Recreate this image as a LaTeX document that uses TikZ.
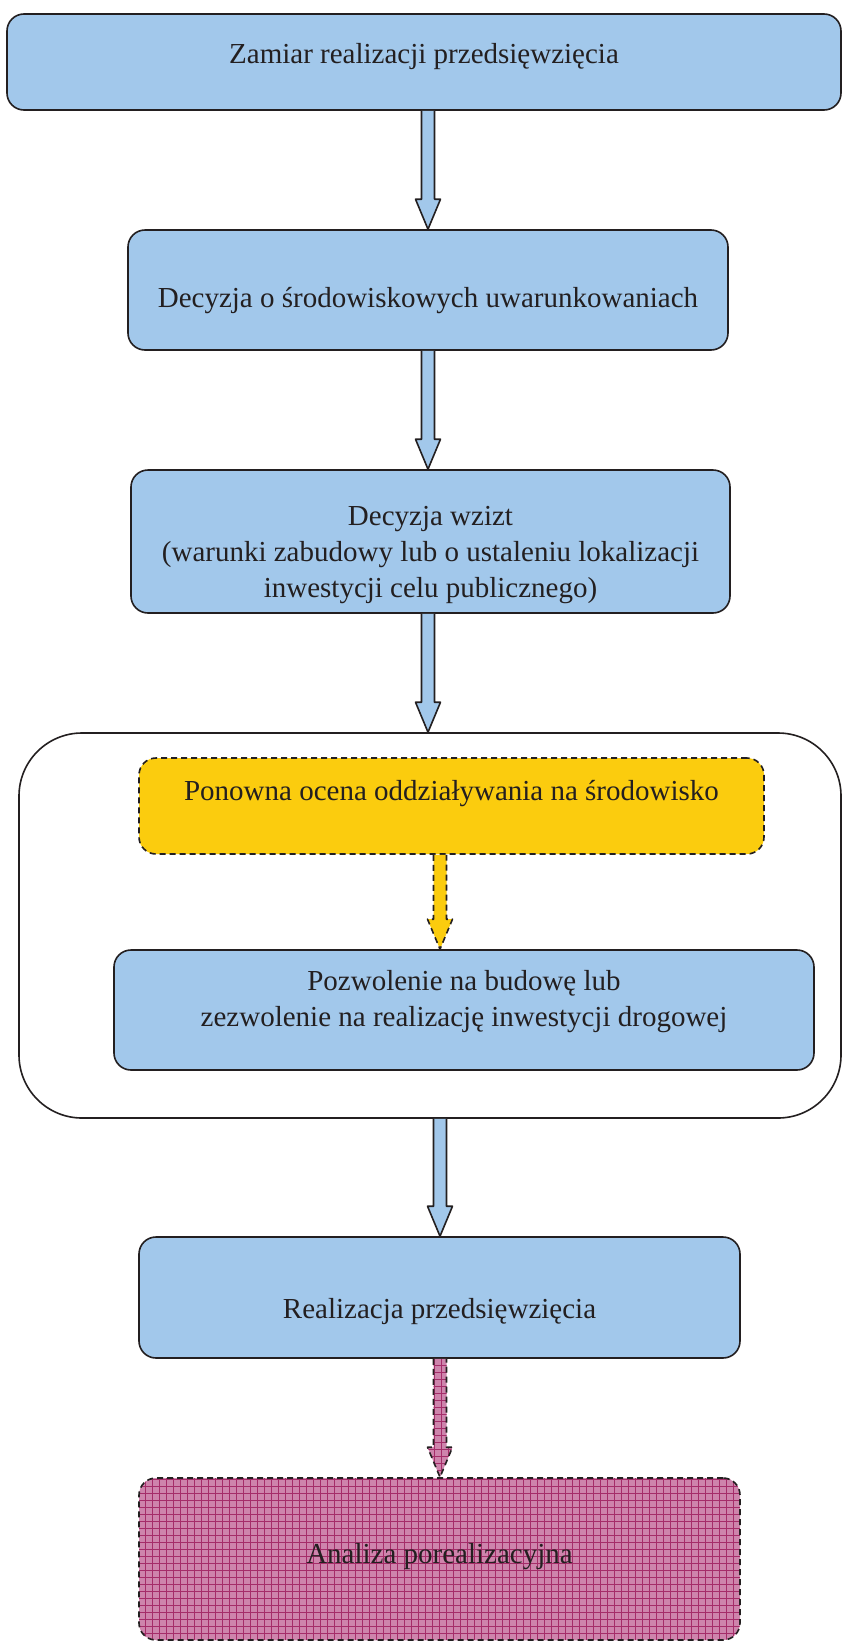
\documentclass[tikz,border=0pt]{standalone}
\usepackage{fontspec}
\setmainfont{Liberation Serif}
\usetikzlibrary{calc}
\definecolor{boxblue}{RGB}{162,200,235}
\definecolor{boxyellow}{RGB}{251,204,14}
\definecolor{pinkbase}{RGB}{206,132,172}
\definecolor{pinkline}{RGB}{165,45,105}
\definecolor{linegray}{RGB}{35,31,32}
% block arrow from the south side of #2 to the north side of #3, at x = #4
\newcommand{\blockarrow}[4][blockblue]{%
	\path (#4,0) coordinate (ax);
	\coordinate (s) at (#2.south -| ax);
	\coordinate (e) at (#3.north -| ax);
	\draw[#1] ($(s)+(-6.5,0)$) -- ($(e)+(-6.5,-30)$) -- ($(e)+(-12.5,-30)$) -- (e)
		-- ($(e)+(12.5,-30)$) -- ($(e)+(6.5,-30)$) -- ($(s)+(6.5,0)$);
}
\begin{document}
\begin{tikzpicture}[x=1pt, y=-1pt, line join=round, text=linegray,
		box/.style={draw=linegray, line width=1.6pt, rounded corners=17pt, inner sep=0pt, align=center, font=\fontsize{29}{36}\selectfont},
		bluebox/.style={box, fill=boxblue},
		dashbox/.style={box, dash pattern=on 6pt off 4pt},
		pinkgrid/.style={fill=pinkbase, path picture={\draw[pinkline, line width=0.7pt, solid, step=7pt] (path picture bounding box.south west) grid (path picture bounding box.north east);}},
		blockblue/.style={draw=linegray, line width=1.6pt, fill=boxblue},
		blockyellow/.style={draw=linegray, line width=1.6pt, dash pattern=on 6pt off 4pt, fill=boxyellow},
		blockpink/.style={draw=linegray, line width=1.6pt, dash pattern=on 6pt off 4pt, pinkgrid}]
	\useasboundingbox (0,0) rectangle (842,1641);
	% main chain
	\node[bluebox, minimum width=834, text height=49, text depth=47] (zam) at (424,62) {Zamiar realizacji przedsięwzięcia};
	\node[bluebox, minimum width=600, text height=77, text depth=43] (dec) at (428,290) {Decyzja o środowiskowych uwarunkowaniach};
	\node[bluebox, minimum width=599, text height=127, text depth=16] (wzi) at (430.5,541.5) {Decyzja wzizt\\(warunki zabudowy lub o ustaleniu lokalizacji\\inwestycji celu publicznego)};
	\node[box, rounded corners=63pt, minimum width=822, minimum height=385] (grp) at (430,925.5) {};
	\node[dashbox, fill=boxyellow, minimum width=625, text height=42, text depth=54] (pon) at (451.5,806) {Ponowna ocena oddziaływania na środowisko};
	\node[bluebox, minimum width=700, text height=76, text depth=44] (poz) at (464,1010) {Pozwolenie na budowę lub\\ zezwolenie na realizację inwestycji drogowej};
	\node[bluebox, minimum width=601, text height=81, text depth=40] (rea) at (439.5,1297.5) {Realizacja przedsięwzięcia};
	\node[dashbox, pinkgrid, minimum width=601, text height=85, text depth=77] (ana) at (439.5,1559) {Analiza porealizacyjna};
	% arrows
	\foreach \from/\to/\ax in {zam/dec/428, dec/wzi/428, wzi/grp/428, grp/rea/440}
		\blockarrow{\from}{\to}{\ax};
	\blockarrow[blockyellow]{pon}{poz}{440}
	\blockarrow[blockpink]{rea}{ana}{440}
\end{tikzpicture}
\end{document}
